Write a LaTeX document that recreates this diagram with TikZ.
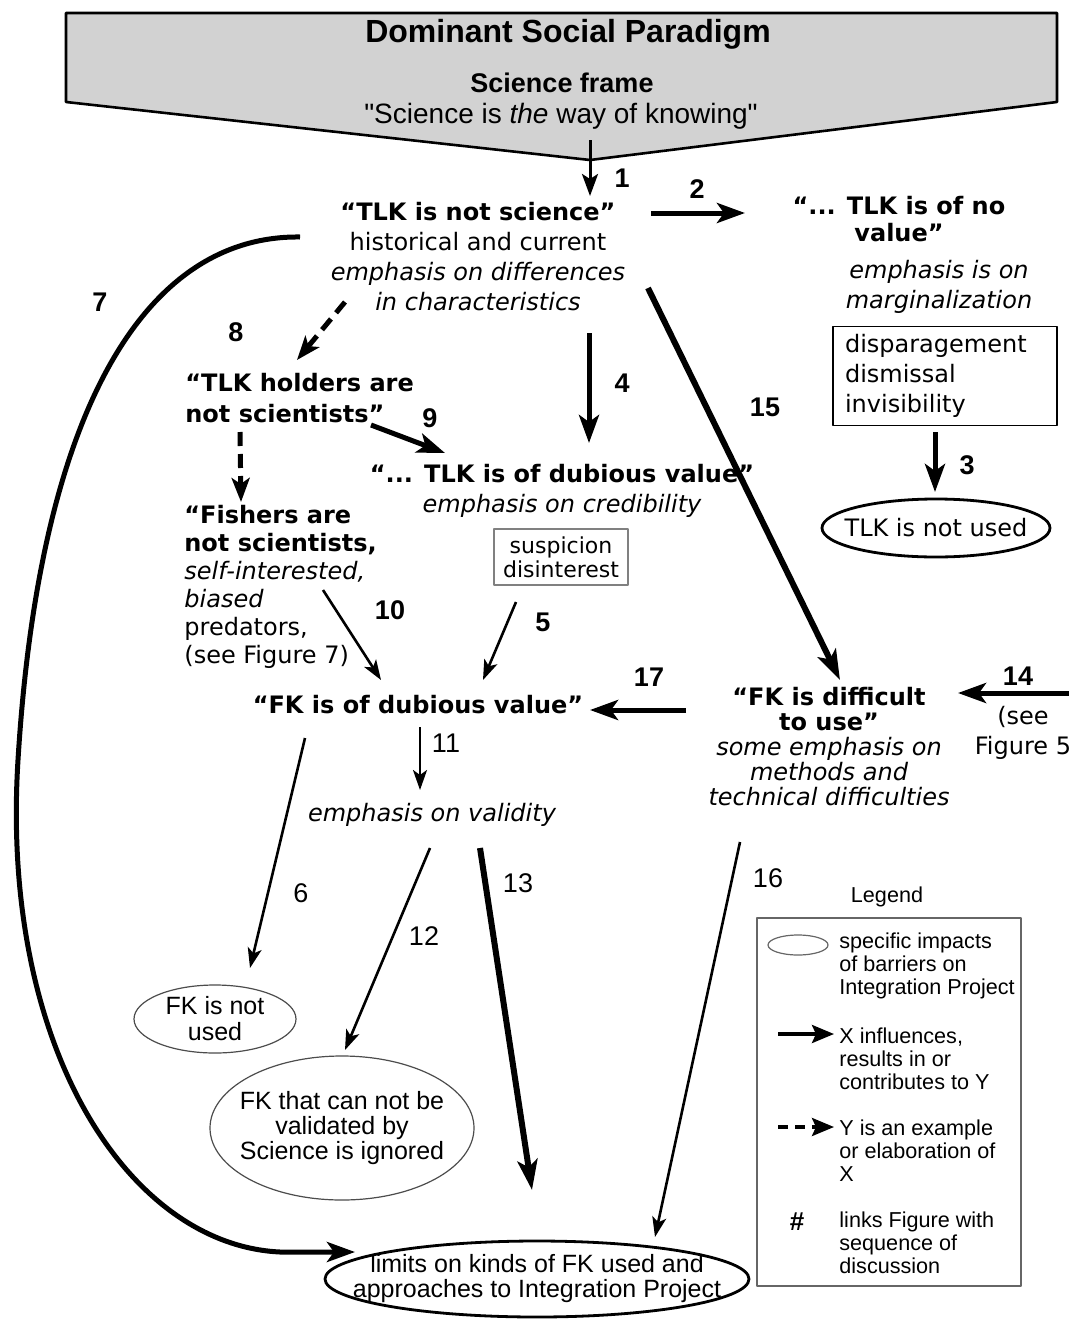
\documentclass[tikz,border=0pt]{standalone}
\usepackage{fontspec}
\setmainfont{DejaVu Sans}
\newfontfamily\arialfont{Liberation Sans}
\usetikzlibrary{arrows.meta,calc,shapes.geometric}

\begin{document}
\begin{tikzpicture}[x=0.5pt,y=-0.5pt,line join=round,
  txt/.style={inner sep=0pt,align=center,font=\fontsize{12}{15}\selectfont},
  numlabel/.style={inner sep=0pt,font=\arialfont\bfseries\fontsize{13.5}{15}\selectfont},
  numplain/.style={inner sep=0pt,font=\arialfont\fontsize{13.5}{15}\selectfont},
  ovaltext/.style={inner sep=0pt,align=center,font=\arialfont\fontsize{12.5}{12.5}\selectfont},
  legtext/.style={inner sep=0pt,align=left,anchor=west,font=\arialfont\fontsize{10.8}{11.5}\selectfont},
  bigarrow/.style={line width=2.5pt,-{Stealth[length=14pt,width=10pt,inset=3.5pt]}},
  midarrow/.style={line width=1.3pt,-{Stealth[length=10pt,width=7pt,inset=2.5pt]}},
  dasharrow/.style={line width=2.5pt,dash pattern=on 7pt off 4pt,-{Stealth[length=12pt,width=9pt,inset=3pt]}}]
\definecolor{dspgray}{HTML}{D2D2D2}
\useasboundingbox (0,0) rectangle (1069,1327);
\coordinate (tip) at (590,160);
\filldraw[fill=dspgray,draw=black,line width=1.3pt] (66,13) -- (1057,13) -- (1057,102) -- (tip) -- (66,102) -- cycle;
\node[inner sep=0pt,font=\arialfont\bfseries\fontsize{16}{18}\selectfont] (dsp) at (568,34) {Dominant Social Paradigm};
\node[inner sep=0pt,font=\arialfont\bfseries\fontsize{13.5}{15}\selectfont] (frame) at (562,83) {Science frame};
\node[inner sep=0pt,font=\arialfont\fontsize{14}{15}\selectfont] (quote) at (561,116) {"Science is \textit{the} way of knowing"};

\node[txt] (tlk) at (478,257) {{\bfseries “TLK is not science”}\\historical and current\\{\itshape emphasis on differences}\\{\itshape in characteristics}};
\node[txt,font=\bfseries\fontsize{12}{13.5}\selectfont] (noval) at (899,219) {“... TLK is of no\\value”};
\node[txt,font=\itshape\fontsize{12}{15}\selectfont] (margin) at (939,287) {emphasis is on\\marginalization};
\node[draw,line width=0.6pt,text width=100pt,inner xsep=6pt,inner ysep=0pt,minimum height=49.5pt,align=left,font=\fontsize{12}{15}\selectfont] (disp) at (945,376) {disparagement\\dismissal\\invisibility};
\node[txt] (tlkused) at (936,528) {TLK is not used};
\draw[line width=1.4pt] (tlkused) ellipse [x radius=57pt,y radius=14.5pt];
\node[txt,anchor=west,align=left,font=\bfseries\fontsize{12}{15.5}\selectfont] (holders) at (185,398) {“TLK holders are\\not scientists”};
\node[txt,anchor=west,align=left,font=\fontsize{12}{14}\selectfont] (fishers) at (184,587) {{\bfseries “Fishers are}\\{\bfseries not scientists,}\\{\itshape self-interested,}\\{\itshape biased}\\predators,\\(see Figure 7)};
\node[txt] (dub) at (562,491) {{\bfseries “... TLK is of dubious value”}\\{\itshape emphasis on credibility}};
\node[draw=gray,line width=0.6pt,minimum width=67pt,minimum height=28pt,inner sep=0pt,align=center,font=\fontsize{11}{12}\selectfont] (susp) at (561,557) {suspicion\\disinterest};
\node[txt,font=\bfseries\fontsize{12}{15}\selectfont] (fkdub) at (418,705) {“FK is of dubious value”};
\node[txt,font=\fontsize{12}{12.5}\selectfont] (diff) at (829,747) {{\bfseries “FK is difficult}\\{\bfseries to use”}\\{\itshape some emphasis on}\\{\itshape methods and}\\{\itshape technical difficulties}};
\node[txt] (seefig) at (1023,733) {(see\\Figure 5};
\node[txt,font=\itshape\fontsize{12}{15}\selectfont] (validity) at (432,815) {emphasis on validity};
\node[ovaltext,font=\arialfont\fontsize{12.5}{13}\selectfont] (fknot) at (215,1019) {FK is not\\used};
\draw[line width=0.6pt,draw=black!70] (fknot) ellipse [x radius=40.5pt,y radius=17pt];
\node[ovaltext] (ignored) at (342,1128) {FK that can not be\\validated by\\Science is ignored};
\draw[line width=0.6pt,draw=black!70] (ignored) ellipse [x radius=66pt,y radius=36pt];
\node[ovaltext] (limits) at (537,1279) {limits on kinds of FK used and\\approaches to Integration Project};
\draw[line width=1.4pt] (limits) ellipse [x radius=106pt,y radius=19pt];
\coordinate (fig5) at (1069,693);

\draw[line width=1.5pt,-{Stealth[length=11pt,width=8pt,inset=2.5pt]}] ($(tip)+(0,-20)$) -- ($(tlk)+(112,-61)$);
\draw[bigarrow] ($(tlk)+(173,-44)$) -- ($(noval)+(-154,-6)$);
\draw[bigarrow] ($(disp)+(-10,56)$) -- ($(tlkused)+(-1,-36)$);
\draw[bigarrow] ($(tlk)+(111,76)$) -- ($(dub)+(27,-48)$);
\draw[midarrow] ($(susp)+(-45,45)$) -- ($(fkdub)+(65,-25)$);
\draw[midarrow] ($(fkdub)+(-113,33)$) -- ($(fknot)+(35,-51)$);
\draw[line width=2.5pt,-{Stealth[length=14pt,width=10pt,inset=3.5pt]}] ($(tlk)+(-178,-20)$) .. controls (150,235) and (40,400) .. (18,760) .. controls (0,1050) and (130,1245) .. (280,1252) -- ($(limits)+(-182,-27)$);
\draw[dasharrow] ($(tlk)+(-133,45)$) -- ($(holders.west)+(112,-38)$);
\draw[dasharrow] ($(holders.west)+(55,34)$) -- ($(fishers.west)+(57,-85)$);
\draw[bigarrow] ($(holders.west)+(186,27)$) -- ($(dub)+(-117,-38)$);
\draw[midarrow] ($(fishers.west)+(139,3)$) -- ($(fkdub)+(-37,-25)$);
\draw[midarrow] ($(fkdub)+(2,22)$) -- ($(validity)+(-12,-25)$);
\draw[midarrow] ($(validity)+(-2,33)$) -- ($(ignored)+(3,-78)$);
\draw[line width=3pt,-{Stealth[length=15pt,width=10pt,inset=3.5pt]}] ($(validity)+(48,33)$) -- ($(limits)+(-5,-89)$);
\draw[bigarrow] (fig5) -- ($(diff)+(129,-54)$);
\draw[line width=3pt,-{Stealth[length=15pt,width=10pt,inset=3.5pt]}] ($(tlk)+(170,31)$) -- ($(diff)+(11,-67)$);
\draw[midarrow] ($(diff)+(-89,95)$) -- ($(limits)+(118,-42)$);
\draw[bigarrow] ($(diff)+(-143,-37)$) -- ($(fkdub)+(172,5)$);

\node[numlabel] (n1) at (622,178) {1};
\node[numlabel] (n2) at (697,189) {2};
\node[numlabel] (n3) at (967,465) {3};
\node[numlabel] (n4) at (622,383) {4};
\node[numlabel] (n5) at (543,622) {5};
\node[numplain] (n6) at (301,893) {6};
\node[numlabel] (n7) at (100,302) {7};
\node[numlabel] (n8) at (236,332) {8};
\node[numlabel] (n9) at (430,418) {9};
\node[numlabel] (n10) at (390,610) {10};
\node[numplain] (n11) at (446,743) {11};
\node[numplain] (n12) at (424,936) {12};
\node[numplain] (n13) at (518,883) {13};
\node[numlabel] (n14) at (1018,676) {14};
\node[numlabel] (n15) at (765,407) {15};
\node[numplain] (n16) at (768,878) {16};
\node[numlabel] (n17) at (649,677) {17};

\node[legtext,anchor=center] (legtitle) at (887,897) {Legend};
\node[draw=black!60,line width=0.6pt,minimum width=132pt,minimum height=184pt,inner sep=0pt] (legbox) at (889,1102) {};
\node[draw=black!60,ellipse,line width=0.6pt,minimum width=30pt,minimum height=10pt,inner sep=0pt] (legoval) at (798,945) {};
\node[legtext] (legimpact) at (839,966) {specific impacts\\of barriers on\\Integration Project};
\node[legtext] (leginfl) at (839,1059) {X influences,\\results in or\\contributes to Y};
\draw[line width=1.8pt,-{Stealth[length=11pt,width=9pt,inset=2pt]}] ($(leginfl.west)+(-61,-25)$) -- ($(leginfl.west)+(-5,-25)$);
\node[legtext] (legexam) at (839,1151) {Y is an example\\or elaboration of\\X};
\draw[line width=1.8pt,dash pattern=on 5pt off 3.5pt,-{Stealth[length=11pt,width=9pt,inset=2pt]}] ($(legexam.west)+(-61,-24)$) -- ($(legexam.west)+(-5,-24)$);
\node[inner sep=0pt,font=\arialfont\bfseries\fontsize{13}{14}\selectfont] (leghash) at (797,1222) {\#};
\node[legtext] (leglink) at (839,1243) {links Figure with\\sequence of\\discussion};
\end{tikzpicture}
\end{document}
